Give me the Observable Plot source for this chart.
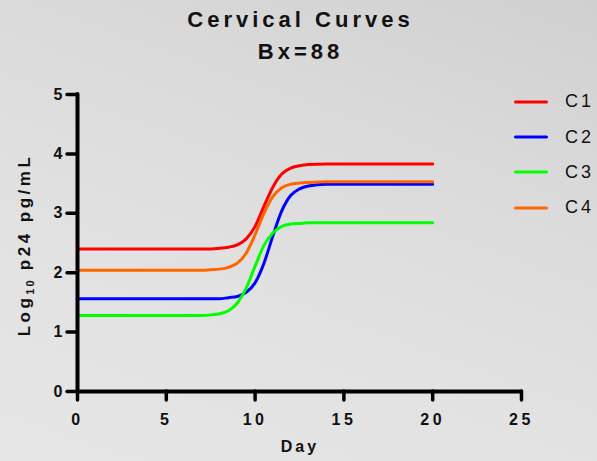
<!DOCTYPE html>
<html><head><meta charset="utf-8">
<script src="https://cdn.jsdelivr.net/npm/d3@7"></script>
<script src="https://cdn.jsdelivr.net/npm/@observablehq/plot@0.6"></script>
<style>
html,body{margin:0;padding:0;background:#e2e2e2;}
#wrap{position:relative;width:597px;height:461px;overflow:hidden;
  background:linear-gradient(200deg,#d0d0d0 0%,#dadada 30%,#e2e2e2 65%,#e6e6e6 100%);
  font-family:"Liberation Sans",Arial,sans-serif;color:#111;}
.t{position:absolute;left:0;width:597px;text-align:center;font-weight:bold;font-size:22px;line-height:22px;letter-spacing:4px;white-space:nowrap;padding-left:4px;box-sizing:border-box;}
#chart{position:absolute;left:0;top:65px;}
#ylab{position:absolute;left:27px;top:245px;transform:translate(-50%,-50%) rotate(-90deg);font-weight:bold;font-size:17px;line-height:17px;letter-spacing:3.5px;white-space:nowrap;}
#ylab .sub{font-size:11px;vertical-align:-4px;letter-spacing:2px;}
#xlab{position:absolute;left:0;width:597px;text-align:center;top:439px;font-weight:bold;font-size:16px;line-height:16px;letter-spacing:3px;padding-left:3px;box-sizing:border-box;}
.leg{position:absolute;left:514px;height:20px;display:flex;align-items:center;white-space:nowrap;}
.leg span{font-size:18px;letter-spacing:3px;margin-left:17px;color:#111;}
svg text{fill:#111;font-weight:bold;}
g[aria-label="x-axis tick label"] text{letter-spacing:3.5px;}
</style>
</head><body>
<div id="wrap">
  <div class="t" style="top:9px">Cervical Curves</div>
  <div class="t" style="top:41px">Bx=88</div>
  <div id="chart"></div>
  <div id="ylab">Log<span class="sub">10</span> p24 pg/mL</div>
  <div id="xlab">Day</div>
</div>
<script>
// Data
const seriesNames = ["C1", "C2", "C3", "C4"];
const seriesColors = ["#ff0000", "#0000ff", "#00ff00", "#ff6600"];
const days = [0, 2, 4, 6, 7, 7.5, 8, 8.5, 9, 9.5, 10, 10.5, 11, 11.5, 12, 12.5, 13, 14, 16, 18, 20];
const c1 = [2.40, 2.40, 2.40, 2.40, 2.40, 2.40, 2.41, 2.43, 2.47, 2.57, 2.78, 3.12, 3.44, 3.66, 3.76, 3.80, 3.82, 3.83, 3.83, 3.83, 3.83];
const c2 = [1.56, 1.56, 1.56, 1.56, 1.56, 1.56, 1.56, 1.58, 1.60, 1.67, 1.83, 2.16, 2.62, 3.04, 3.30, 3.41, 3.46, 3.49, 3.49, 3.49, 3.49];
const c3 = [1.28, 1.28, 1.28, 1.28, 1.28, 1.29, 1.31, 1.36, 1.49, 1.74, 2.11, 2.46, 2.67, 2.78, 2.82, 2.83, 2.84, 2.84, 2.84, 2.84, 2.84];
const c4 = [2.04, 2.04, 2.04, 2.04, 2.04, 2.05, 2.06, 2.09, 2.16, 2.33, 2.64, 3.00, 3.28, 3.43, 3.49, 3.51, 3.52, 3.53, 3.53, 3.53, 3.53];
const xTicks = [0, 5, 10, 15, 20, 25];
const yTicks = [0, 1, 2, 3, 4, 5];

const seriesValues = [c1, c2, c3, c4];
const data = seriesNames.flatMap((name, i) =>
  days.map((d, j) => ({series: name, day: d, value: seriesValues[i][j]})));

const chart = Plot.plot({
  width: 597,
  height: 396,
  marginTop: 29,
  marginBottom: 70,
  marginLeft: 77,
  marginRight: 76,
  style: {background: "transparent", fontFamily: "'Liberation Sans', Arial, sans-serif", overflow: "visible"},
  x: {domain: [0, 25], label: null},
  y: {domain: [0, 5], label: null},
  color: {domain: seriesNames, range: seriesColors},
  marks: [
    Plot.line(data, {x: "day", y: "value", z: "series", stroke: "series", curve: "monotone-x", strokeWidth: 3}),
    Plot.ruleX([0], {stroke: "#000", strokeWidth: 4, strokeLinecap: "round"}),
    Plot.ruleY([0], {stroke: "#000", strokeWidth: 4, strokeLinecap: "round"}),
    Plot.axisX({ticks: xTicks, tickSize: 9, tickPadding: 13, stroke: "#000", strokeWidth: 3.5, strokeLinecap: "round",
      fontSize: 16, fontWeight: "bold", label: null, tickFormat: d => String(d)}),
    Plot.axisY({ticks: yTicks, tickSize: 10, tickPadding: 5, stroke: "#000", strokeWidth: 3.5, strokeLinecap: "round",
      fontSize: 16, fontWeight: "bold", label: null, tickFormat: d => String(d)})
  ]
});
document.getElementById("chart").appendChild(chart);

// Legend
const wrap = d3.select("#wrap");
seriesNames.forEach((name, i) => {
  const row = wrap.append("div").attr("class", "leg").style("top", (91.7 + i * 35.3) + "px");
  const s = row.append("svg").attr("width", 34).attr("height", 6);
  s.append("line").attr("x1", 1.5).attr("x2", 32.5).attr("y1", 3).attr("y2", 3)
    .attr("stroke", seriesColors[i]).attr("stroke-width", 3).attr("stroke-linecap", "round");
  row.append("span").text(name);
});
</script>
</body></html>
